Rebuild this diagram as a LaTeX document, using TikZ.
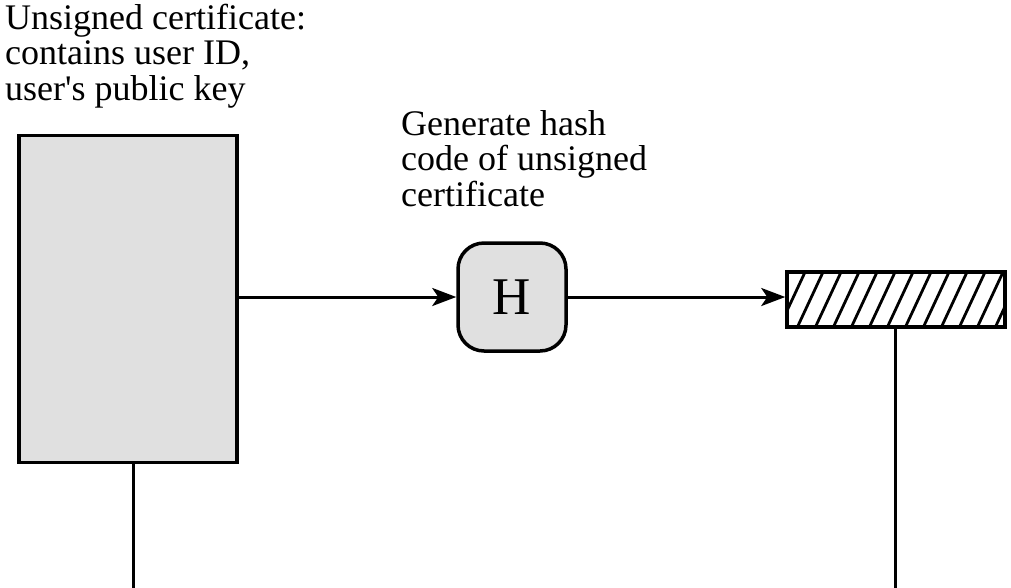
\documentclass[tikz,border=0pt]{standalone}
\usepackage{fontspec}
\setmainfont{Liberation Serif}
\usetikzlibrary{arrows.meta}
\begin{document}
\begin{tikzpicture}[x=1pt,y=-1pt,
  lbl/.style={align=left,inner sep=0pt,anchor=base west,font=\fontsize{36}{35.5}\selectfont},
  conn/.style={line width=3pt},
  arr/.style={conn,-{Stealth[length=24pt,width=18pt,inset=6pt]}},
  certbox/.style={draw,line width=3.5pt,fill=black!12,minimum width=218pt,minimum height=327pt,inner sep=0pt},
  hashbox/.style={draw,line width=3.5pt,fill=black!12,rounded corners=26pt,minimum width=108pt,minimum height=108pt,inner sep=0pt,font=\fontsize{53}{53}\selectfont},
  codebox/.style={draw,line width=3.5pt,minimum width=218pt,minimum height=55pt,inner sep=0pt}]
\useasboundingbox (0,0) rectangle (1011,587);
\node[lbl] (t1) at (5,100) {Unsigned certificate:\\contains user ID,\\user\textquotesingle s public key};
\node[lbl] (t2) at (401,206) {Generate hash\\code of unsigned\\certificate};
\node[certbox] (cert) at (128,299) {};
\node[hashbox] (H) at (512,297) {H};
\node[codebox] (code) at (896,299.5) {};
\begin{scope}
  \clip (code.south west) rectangle (code.north east);
  \foreach \i in {0,...,14} {
    \draw[line width=2.8pt] (760+18*\i,330) -- (760+18*\i+28,270);
  }
\end{scope}
\node[codebox] at (896,299.5) {};
\coordinate (c1) at (133,590);
\coordinate (c2) at (895,590);
\draw[arr] (cert.east |- H.west) -- (H.west);
\draw[arr] (H.east) -- (code.west |- H.east);
\draw[conn] (cert.south -| c1) -- (c1);
\draw[conn] (code.south -| c2) -- (c2);
\end{tikzpicture}
\end{document}
